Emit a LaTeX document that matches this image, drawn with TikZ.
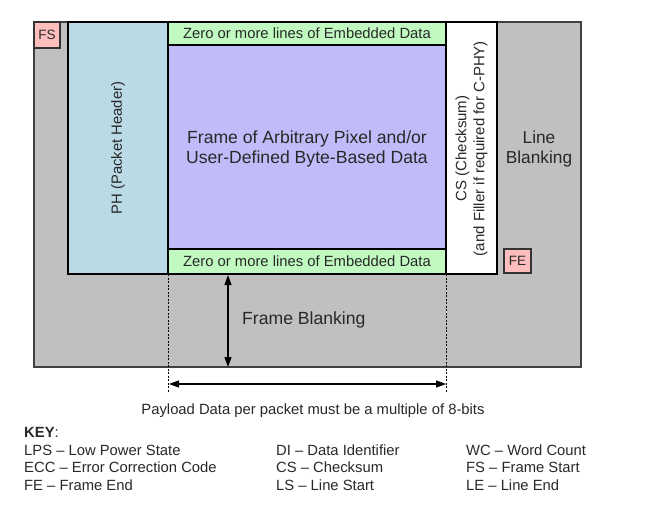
\documentclass[tikz,border=0pt]{standalone}
\usepackage{fontspec}
\setmainfont{Liberation Sans}
\usetikzlibrary{arrows.meta}
\definecolor{blankgray}{RGB}{192,192,192}
\definecolor{phblue}{RGB}{186,218,230}
\definecolor{payloadpurple}{RGB}{192,188,250}
\definecolor{embgreen}{RGB}{192,250,192}
\definecolor{markpink}{RGB}{255,190,190}
\definecolor{textgray}{RGB}{40,40,40}
\tikzset{
  region/.style={draw=black, line width=1.2pt, anchor=north west, inner sep=0pt, outer sep=0pt, text=textgray},
  marker/.style={region, fill=markpink, draw=black!80, font=\fontsize{13.5}{14}\selectfont},
  label/.style={text=textgray, align=center, inner sep=0pt},
  keytext/.style={anchor=west, inner sep=0pt, text=textgray, font=\fontsize{14.8}{16}\selectfont},
  dim/.style={line width=1.2pt, {Triangle[length=10pt,width=7pt]}-{Triangle[length=10pt,width=7pt]}},
  guide/.style={dashed, dash pattern=on 2pt off 1.5pt, line width=0.5pt}
}
\begin{document}
\begin{tikzpicture}[x=1pt,y=-1pt]
\useasboundingbox (0,0) rectangle (650,508);
% outer blanking area
\node[region, fill=blankgray, draw=black!75, minimum width=547pt, minimum height=345pt] (outer) at (34,22) {};
% frame start marker
\node[marker, minimum width=26pt, minimum height=26pt] (fs) at (34,22) {FS};
% packet header
\node[region, fill=phblue, minimum width=100pt, minimum height=252pt] (ph) at (68,22) {};
\node[label, rotate=90, font=\fontsize{14.8}{17}\selectfont] (phtext) at (ph.center) {PH (Packet Header)};
% embedded data top
\node[region, fill=embgreen, minimum width=278pt, minimum height=23pt, font=\fontsize{14.8}{16}\selectfont] (embtop) at (168,22) {Zero or more lines of Embedded Data};
% payload
\node[region, fill=payloadpurple, minimum width=278pt, minimum height=204pt] (payload) at (168,45) {};
\node[label, font=\fontsize{17.6}{20.5}\selectfont] (paytext) at ([yshift=-2pt]payload.center) {Frame of Arbitrary Pixel and/or\\User-Defined Byte-Based Data};
% embedded data bottom
\node[region, fill=embgreen, minimum width=278pt, minimum height=25pt, font=\fontsize{14.8}{16}\selectfont] (embbot) at (168,249) {Zero or more lines of Embedded Data};
% checksum
\node[region, fill=white, minimum width=51pt, minimum height=252pt] (cs) at (446,22) {};
\node[label, rotate=90, font=\fontsize{15}{18}\selectfont] (cstext) at ([yshift=-0.5pt]cs.center) {CS (Checksum)\\(and Filler if required for C-PHY)};
% line blanking label
\node[label, font=\fontsize{17.3}{20.5}\selectfont] (lbtext) at (539,149) {Line\\Blanking};
% frame end marker
\node[marker, minimum width=27pt, minimum height=24pt] (fe) at (504,249) {FE};
% frame blanking
\node[label, anchor=west, font=\fontsize{17.6}{20}\selectfont] (fbtext) at (242,320) {Frame Blanking};
\coordinate (fbtop) at (228,275);
\coordinate (fbbot) at (228,367);
\draw[dim] (fbtop) -- (fbbot);
% payload width guides
\coordinate (gl) at (168,392);
\coordinate (gr) at (446,392);
\draw[guide] (embbot.south west) -- (gl);
\draw[guide] (embbot.south east) -- (gr);
\coordinate (pl) at (169,384);
\coordinate (pr) at (446,384);
\draw[dim] (pl) -- (pr);
\node[label, font=\fontsize{14.8}{16}\selectfont] (paynote) at (313,411) {Payload Data per packet must be a multiple of 8-bits};
% key
\node[keytext] (key) at (24,432) {\textbf{KEY}:};
\node[keytext] (k1) at (24,450) {LPS – Low Power State};
\node[keytext] (k2) at (24,467) {ECC – Error Correction Code};
\node[keytext] (k3) at (24,485) {FE – Frame End};
\node[keytext] (k4) at (276,450) {DI – Data Identifier};
\node[keytext] (k5) at (276,467) {CS – Checksum};
\node[keytext] (k6) at (276,485) {LS – Line Start};
\node[keytext] (k7) at (466,450) {WC – Word Count};
\node[keytext] (k8) at (466,467) {FS – Frame Start};
\node[keytext] (k9) at (466,485) {LE – Line End};
\end{tikzpicture}
\end{document}
